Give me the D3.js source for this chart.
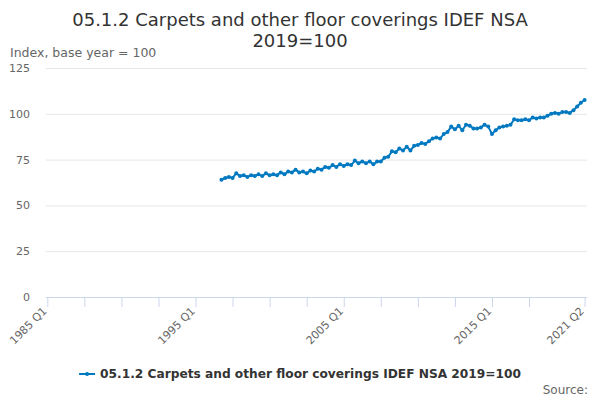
<!DOCTYPE html>
<html>
<head>
<meta charset="utf-8">
<script src="https://cdn.jsdelivr.net/npm/d3@7"></script>
<style>
  body { margin: 0; background: #fff; }
  svg { font-family: "DejaVu Sans", sans-serif; }
</style>
</head>
<body>
<div id="chart"></div>
<script>
// quarters 1985 Q1 .. 2021 Q2
const quarters = [];
for (let y = 1985; y <= 2021; y++) {
  for (let q = 1; q <= 4; q++) {
    if (y === 2021 && q > 2) break;
    quarters.push(`${y} Q${q}`);
  }
}

const seriesStart = "1996 Q4";
const seriesValues = [
  64,
  65, 65.5, 65, 67.5,
  66, 66.5, 65.5, 66.5,
  66, 67, 66, 67.5,
  66.5, 67, 66.5, 68,
  67, 68.5, 68, 69.5,
  68, 68.5, 67.5, 69,
  68.5, 70, 69.5, 71,
  70.5, 72, 71, 72.5,
  71.5, 72.5, 72, 74.5,
  73, 74, 73, 74,
  72.5, 74, 74, 76,
  76.5, 79.5, 79, 81,
  80, 82, 80, 82.5,
  83, 84, 83.5, 85,
  86.5, 87, 86.5, 89,
  90, 93, 91.5, 93.5,
  91, 94, 93.5, 92,
  92, 92.5, 94, 93,
  89, 91, 92.5, 93,
  93.5, 94, 97, 96.5,
  96.5, 97, 96.5, 98,
  97.5, 98, 98, 99,
  100, 100.5, 100, 101,
  101, 100.5, 102, 104,
  106, 107.5
];
const yTicks = [0, 25, 50, 75, 100, 125];
const xLabels = ["1985 Q1", "1995 Q1", "2005 Q1", "2015 Q1", "2021 Q2"];

const seriesName = "05.1.2 Carpets and other floor coverings IDEF NSA 2019=100";
const startIdx = quarters.indexOf(seriesStart);
const data = seriesValues.map((v, i) => ({ q: quarters[startIdx + i], v }));

const W = 600, H = 400;
const plot = { left: 46, right: 587, top: 68, bottom: 297 };

const svg = d3.select("#chart").append("svg")
  .attr("width", W).attr("height", H);

const x = d3.scalePoint().domain(quarters).range([47.3, 584.6]);
const y = d3.scaleLinear().domain([0, 125]).range([plot.bottom, plot.top]);

// title
svg.append("text").attr("x", W / 2).attr("y", 26)
  .attr("text-anchor", "middle").attr("fill", "#333").style("font-size", "18px")
  .text("05.1.2 Carpets and other floor coverings IDEF NSA");
svg.append("text").attr("x", W / 2).attr("y", 47)
  .attr("text-anchor", "middle").attr("fill", "#333").style("font-size", "18px")
  .text("2019=100");

// y axis title
svg.append("text").attr("x", 10).attr("y", 57)
  .attr("fill", "#666").style("font-size", "12.5px")
  .text("Index, base year = 100");

// grid + y labels
const yAxis = svg.append("g").attr("transform", `translate(${plot.left},0)`)
  .call(d3.axisLeft(y).tickValues(yTicks).tickSize(-(plot.right - plot.left)).tickPadding(16));
yAxis.select(".domain").remove();
yAxis.selectAll(".tick line").attr("stroke", "#e6e6e6");
yAxis.selectAll(".tick text").attr("fill", "#666").style("font-size", "11px")
  .style("font-family", "DejaVu Sans, sans-serif");

// x axis
const lastIdx = quarters.length - 1;
const tickQs = quarters.filter((q, i) => (i % 10 === 0 && i < lastIdx - 10) || i === lastIdx);
const xAxis = svg.append("g").attr("transform", `translate(0,${plot.bottom})`)
  .call(d3.axisBottom(x).tickValues(tickQs).tickSize(10).tickSizeOuter(0)
    .tickFormat(q => xLabels.includes(q) ? q : ""));
xAxis.select(".domain").attr("d", `M${plot.left},0.5H${plot.right}`).attr("stroke", "#ccd6eb");
xAxis.selectAll(".tick line").attr("stroke", "#ccd6eb");
xAxis.selectAll(".tick text")
  .attr("fill", "#666").style("font-size", "11px")
  .style("font-family", "DejaVu Sans, sans-serif")
  .attr("text-anchor", "end")
  .attr("y", 0)
  .attr("dy", "0.35em")
  .attr("transform", "translate(-3,12) rotate(-45)");

// line
const line = d3.line().x(d => x(d.q)).y(d => y(d.v));
svg.append("path").datum(data)
  .attr("fill", "none").attr("stroke", "#0079c1").attr("stroke-width", 2)
  .attr("d", line);
svg.selectAll(".pt").data(data).enter().append("circle")
  .attr("class", "pt")
  .attr("cx", d => x(d.q)).attr("cy", d => y(d.v))
  .attr("r", 2).attr("fill", "#0079c1");

// legend
const legend = svg.append("g").attr("transform", "translate(300,374)");
const legText = legend.append("text").attr("fill", "#333")
  .style("font-size", "12.2px").style("font-weight", "bold")
  .attr("dy", "0.35em").text(seriesName);
const tw = legText.node().getComputedTextLength();
const lx = -(tw + 21) / 2;
legText.attr("x", lx + 21);
legend.append("line").attr("x1", lx).attr("x2", lx + 16).attr("y1", 0).attr("y2", 0)
  .attr("stroke", "#0079c1").attr("stroke-width", 2);
legend.append("circle").attr("cx", lx + 8).attr("cy", 0).attr("r", 2).attr("fill", "#0079c1");

// credits
svg.append("text").attr("x", 588).attr("y", 394).attr("text-anchor", "end")
  .attr("fill", "#666").style("font-size", "12px").text("Source:");
</script>
</body>
</html>
